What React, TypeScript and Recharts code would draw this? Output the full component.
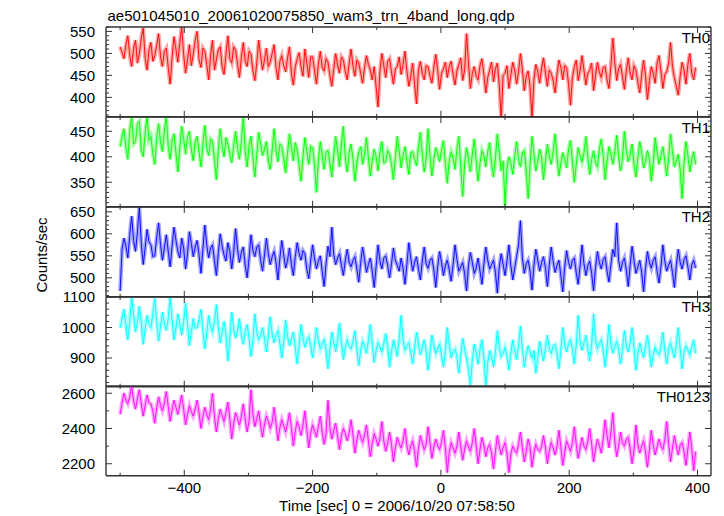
import React from 'react';
import { LineChart, Line, XAxis, YAxis } from 'recharts';

const FONT = '"Liberation Sans", Arial, Helvetica, sans-serif';
const AXIS = '#333333';

// light curve bins: 3 s apart starting at -500 s
const timeStart = -500;
const timeStep = 3;

const th0 = [
  515, 502, 488, 520, 540, 495, 470, 512, 530, 478, 500, 535, 558, 490, 462, 508, 525, 482, 495, 518,
  545, 492, 470, 505, 512, 468, 430, 490, 538, 510, 480, 525, 560, 498, 455, 485, 520, 472, 498, 530,
  550, 486, 468, 512, 505, 475, 440, 495, 530, 462, 485, 508, 515, 470, 452, 498, 540, 488, 478, 515,
  508, 475, 445, 492, 525, 482, 470, 505, 498, 460, 438, 478, 530, 495, 462, 485, 512, 470, 480, 500,
  520, 468, 440, 482, 495, 472, 458, 490, 515, 455, 428, 470, 488, 502, 470, 448, 510, 478, 445, 492,
  492, 462, 430, 475, 505, 468, 460, 488, 480, 450, 425, 465, 500, 472, 455, 492, 485, 458, 440, 478,
  510, 470, 448, 485, 478, 455, 432, 468, 495, 475, 462, 440, 470, 425, 378, 460, 500, 472, 445, 482,
  488, 458, 430, 465, 470, 492, 452, 475, 505, 460, 425, 448, 478, 430, 385, 462, 482, 455, 440, 472,
  470, 448, 432, 468, 498, 462, 418, 455, 465, 480, 445, 470, 482, 452, 428, 460, 475, 490, 438, 462,
  545, 478, 420, 455, 470, 448, 440, 472, 488, 452, 410, 445, 462, 480, 435, 465, 478, 428, 350, 450,
  455, 472, 420, 450, 480, 462, 430, 458, 500, 465, 415, 448, 460, 425, 352, 440, 475, 458, 432, 468,
  490, 455, 425, 462, 455, 438, 410, 452, 485, 468, 440, 472, 468, 430, 382, 445, 470, 485, 438, 460,
  495, 462, 428, 455, 462, 478, 415, 450, 480, 458, 445, 468, 470, 440, 420, 472, 535, 480, 438, 465,
  475, 448, 418, 460, 490, 455, 440, 472, 462, 435, 410, 452, 485, 448, 395, 438, 470, 455, 432, 478,
  495, 460, 420, 452, 458, 478, 525, 470, 445, 425, 405, 448, 480, 462, 430, 475, 500, 455, 440, 468,
];

const th1 = [
  420, 440, 455, 418, 395, 452, 478, 425, 430, 465, 470, 412, 400, 448, 478, 432, 440, 405, 385, 438,
  465, 428, 410, 452, 478, 420, 395, 432, 445, 408, 370, 418, 460, 435, 405, 440, 450, 415, 392, 430,
  440, 410, 380, 425, 462, 418, 402, 435, 430, 395, 355, 412, 455, 420, 400, 438, 425, 405, 388, 422,
  450, 418, 395, 430, 478, 410, 380, 422, 440, 398, 360, 405, 448, 425, 402, 415, 430, 392, 375, 412,
  455, 412, 390, 425, 420, 395, 368, 408, 445, 418, 392, 428, 412, 382, 352, 400, 438, 410, 385, 420,
  418, 385, 330, 392, 430, 402, 375, 410, 412, 388, 360, 405, 440, 412, 380, 425, 460, 398, 370, 408,
  425, 395, 352, 388, 410, 420, 385, 405, 438, 398, 362, 392, 415, 400, 372, 410, 430, 388, 390, 412,
  405, 385, 355, 398, 440, 412, 378, 402, 420, 392, 365, 408, 410, 395, 382, 418, 448, 405, 370, 395,
  455, 402, 362, 395, 418, 405, 390, 412, 432, 385, 348, 392, 410, 398, 375, 415, 440, 380, 322, 388,
  418, 395, 370, 405, 435, 392, 352, 388, 412, 402, 380, 410, 428, 385, 360, 398, 445, 408, 372, 392,
  305, 378, 400, 388, 365, 402, 430, 395, 380, 408, 412, 372, 318, 385, 440, 405, 372, 392, 415, 398,
  355, 392, 425, 402, 385, 410, 445, 398, 362, 388, 408, 395, 378, 415, 432, 390, 350, 385, 418, 402,
  390, 408, 440, 398, 365, 395, 412, 388, 380, 415, 435, 402, 355, 392, 420, 405, 385, 410, 442, 400,
  372, 395, 450, 412, 390, 405, 425, 385, 360, 398, 430, 408, 378, 392, 412, 395, 352, 388, 438, 410,
  385, 402, 420, 392, 362, 398, 445, 410, 380, 392, 405, 375, 318, 388, 430, 402, 370, 395, 410, 385,
];

const th2 = [
  470, 565, 590, 572, 545, 598, 640, 585, 560, 605, 661, 578, 530, 568, 610, 582, 575, 548, 550, 592,
  625, 575, 540, 568, 598, 560, 525, 572, 615, 585, 560, 545, 590, 568, 520, 555, 605, 578, 548, 570,
  585, 552, 510, 565, 620, 575, 545, 568, 575, 540, 505, 555, 600, 572, 552, 538, 580, 560, 520, 558,
  612, 565, 535, 558, 570, 528, 500, 545, 598, 562, 548, 570, 575, 540, 515, 552, 590, 555, 530, 548,
  560, 535, 495, 545, 585, 552, 522, 540, 568, 530, 505, 548, 580, 555, 540, 562, 555, 520, 498, 538,
  575, 545, 520, 538, 550, 515, 480, 532, 572, 548, 615, 552, 530, 545, 555, 528, 505, 540, 565, 535,
  525, 540, 548, 520, 490, 535, 570, 542, 512, 530, 545, 515, 478, 525, 575, 538, 520, 545, 550, 528,
  500, 532, 568, 540, 528, 515, 545, 522, 485, 530, 580, 545, 515, 535, 548, 520, 495, 538, 570, 532,
  522, 540, 545, 518, 478, 525, 560, 535, 505, 528, 540, 518, 492, 530, 575, 542, 515, 525, 535, 510,
  470, 528, 558, 535, 510, 522, 545, 515, 485, 532, 570, 540, 520, 530, 540, 512, 465, 525, 555, 530,
  505, 538, 575, 528, 495, 522, 548, 575, 630, 545, 510, 532, 540, 515, 472, 528, 565, 540, 515, 535,
  548, 522, 480, 530, 570, 538, 512, 528, 540, 505, 468, 525, 562, 535, 520, 540, 545, 512, 485, 528,
  575, 532, 505, 528, 538, 510, 470, 522, 560, 535, 520, 542, 548, 515, 490, 530, 565, 548, 625, 540,
  515, 535, 545, 518, 480, 528, 572, 540, 510, 525, 540, 512, 468, 522, 560, 535, 522, 540, 548, 515,
  488, 525, 575, 538, 515, 530, 540, 512, 478, 528, 565, 535, 520, 542, 550, 525, 495, 530, 540, 522,
];

const th3 = [
  1000, 1030, 1060, 1005, 960, 1025, 1100, 1040, 985, 1020, 1070, 1015, 945, 995, 1040, 1010, 1000, 1045, 1095, 1020,
  955, 1005, 1050, 1012, 990, 1030, 1100, 1025, 960, 1000, 1045, 1010, 975, 1020, 1080, 1015, 940, 985, 1030, 998,
  1000, 1025, 1060, 990, 930, 980, 1040, 1002, 985, 1020, 1075, 1005, 950, 985, 1020, 975, 890, 968, 1050, 995,
  965, 990, 1030, 975, 945, 988, 1010, 965, 905, 958, 1045, 985, 960, 975, 1000, 962, 920, 972, 1035, 980,
  950, 975, 990, 948, 900, 955, 1025, 970, 940, 962, 985, 935, 880, 940, 1010, 965, 935, 958, 970, 942,
  900, 945, 1000, 958, 930, 948, 960, 925, 865, 930, 985, 952, 920, 960, 1015, 950, 895, 935, 960, 940,
  930, 955, 990, 930, 875, 925, 955, 940, 915, 958, 1010, 945, 885, 925, 950, 935, 920, 948, 980, 938,
  870, 920, 960, 935, 905, 962, 1040, 958, 925, 940, 950, 918, 880, 932, 985, 945, 910, 935, 960, 925,
  860, 918, 975, 940, 915, 932, 945, 908, 870, 925, 1000, 942, 900, 922, 930, 905, 850, 910, 965, 930,
  900, 862, 810, 895, 945, 918, 880, 930, 960, 900, 806, 885, 925, 905, 870, 920, 990, 935, 905, 915,
  935, 905, 860, 915, 960, 925, 895, 940, 1005, 930, 870, 912, 940, 918, 900, 925, 850, 902, 955, 920,
  890, 935, 975, 930, 915, 940, 945, 912, 865, 925, 1000, 945, 920, 948, 960, 930, 880, 945, 1040, 952,
  925, 950, 975, 928, 890, 945, 1045, 960, 930, 948, 960, 925, 870, 932, 1010, 950, 915, 938, 955, 930,
  880, 925, 990, 942, 920, 948, 1000, 935, 860, 915, 950, 922, 900, 938, 975, 928, 870, 912, 935, 918,
  910, 935, 985, 925, 880, 930, 950, 922, 900, 945, 1000, 930, 865, 918, 940, 925, 910, 935, 960, 915,
];

const th0123 = [
  2480, 2545, 2600, 2560, 2540, 2580, 2641, 2555, 2510, 2570, 2620, 2540, 2470, 2530, 2590, 2545, 2540, 2500, 2430, 2520,
  2580, 2530, 2500, 2545, 2610, 2525, 2440, 2505, 2560, 2520, 2480, 2535, 2590, 2510, 2420, 2480, 2530, 2495, 2470, 2510,
  2560, 2490, 2400, 2465, 2520, 2480, 2450, 2505, 2600, 2470, 2380, 2450, 2510, 2475, 2440, 2490, 2550, 2455, 2340, 2430,
  2490, 2455, 2420, 2470, 2540, 2450, 2380, 2445, 2620, 2480, 2410, 2455, 2500, 2420, 2350, 2425, 2470, 2440, 2400, 2435,
  2520, 2430, 2330, 2405, 2450, 2415, 2380, 2430, 2490, 2400, 2300, 2385, 2440, 2410, 2360, 2420, 2500, 2395, 2290, 2375,
  2420, 2385, 2350, 2410, 2470, 2380, 2310, 2370, 2560, 2405, 2340, 2390, 2430, 2355, 2280, 2360, 2400, 2370, 2330, 2375,
  2450, 2360, 2260, 2335, 2390, 2350, 2320, 2365, 2420, 2330, 2240, 2315, 2370, 2340, 2300, 2345, 2440, 2330, 2270, 2320,
  2380, 2310, 2210, 2290, 2350, 2315, 2290, 2330, 2400, 2305, 2250, 2300, 2330, 2270, 2180, 2285, 2360, 2320, 2280, 2310,
  2410, 2320, 2230, 2295, 2340, 2300, 2280, 2325, 2390, 2290, 2150, 2265, 2320, 2290, 2260, 2300, 2380, 2295, 2220, 2285,
  2330, 2295, 2270, 2320, 2400, 2300, 2200, 2280, 2350, 2305, 2240, 2290, 2310, 2260, 2170, 2270, 2360, 2300, 2250, 2290,
  2320, 2260, 2150, 2255, 2300, 2275, 2260, 2310, 2380, 2290, 2210, 2270, 2340, 2295, 2180, 2260, 2310, 2280, 2270, 2300,
  2360, 2290, 2200, 2275, 2320, 2290, 2250, 2300, 2390, 2295, 2190, 2265, 2330, 2300, 2270, 2320, 2410, 2310, 2230, 2290,
  2350, 2300, 2280, 2330, 2400, 2310, 2210, 2285, 2340, 2305, 2260, 2340, 2450, 2360, 2290, 2380, 2490, 2330, 2240, 2300,
  2380, 2320, 2300, 2340, 2350, 2285, 2200, 2275, 2420, 2310, 2260, 2300, 2330, 2265, 2180, 2280, 2390, 2305, 2250, 2295,
  2340, 2300, 2280, 2335, 2440, 2310, 2210, 2290, 2360, 2300, 2250, 2305, 2320, 2270, 2190, 2285, 2380, 2290, 2160, 2270,
];

const xTicks = [-500, -400, -300, -200, -100, 0, 100, 200, 300, 400];
const xLabelTicks = [-400, -200, 0, 200, 400];

const th0Labels = [400, 450, 500, 550];
const th1Labels = [350, 400, 450];
const th2Labels = [500, 550, 600, 650];
const th3Labels = [900, 1000, 1100];
const th0123Labels = [2200, 2400, 2600];

const panels = [
  { name: 'TH0', color: '#ff0000', values: th0, domain: [356, 560], labels: th0Labels, minor: 10 },
  { name: 'TH1', color: '#00ff00', values: th1, domain: [302, 478], labels: th1Labels, minor: 10 },
  { name: 'TH2', color: '#0000ff', values: th2, domain: [457, 661], labels: th2Labels, minor: 10 },
  { name: 'TH3', color: '#00ffff', values: th3, domain: [806, 1100], labels: th3Labels, minor: 20 },
  { name: 'TH0123', color: '#ff00ff', values: th0123, domain: [2132, 2641], labels: th0123Labels, minor: 100 },
];

const X_DOMAIN = [-522, 421];
const PLOT_LEFT = 106;
const PLOT_RIGHT = 711;
const TOP = 27.3;
const PANEL_H = 89.74;
const PAD = 12;
const W = 724;
const Y_AXIS_W = 40;
const Y_AXIS_R_W = 10;
const X_AXIS_H = 10;

const minorTicks = (lo: number, hi: number, step: number) => {
  const out: number[] = [];
  for (let v = Math.ceil(lo / step) * step; v <= hi; v += step) out.push(v);
  return out;
};

const yTick = (labels: number[], side: 'left' | 'right') => (props: any) => {
  const { x, y, payload } = props;
  const major = labels.includes(payload.value);
  const len = major ? 6 : 3;
  const dir = side === 'left' ? 1 : -1;
  return (
    <g>
      <line x1={x} y1={y} x2={x + dir * len} y2={y} stroke={AXIS} strokeWidth={1} />
      {side === 'left' && major && (
        <text x={x - 11} y={y} dy="0.36em" textAnchor="end" fontSize={15} fontFamily={FONT} fill="#000">
          {payload.value}
        </text>
      )}
    </g>
  );
};

const xTick = (side: 'top' | 'bottom', showLabels: boolean) => (props: any) => {
  const { x, y, payload } = props;
  const major = xLabelTicks.includes(payload.value);
  const len = major ? 6 : 3;
  const dir = side === 'bottom' ? -1 : 1;
  const v = payload.value as number;
  return (
    <g>
      <line x1={x} y1={y} x2={x} y2={y + dir * len} stroke={AXIS} strokeWidth={1} />
      {showLabels && major && (
        <text x={x} y={y + 17.5} textAnchor="middle" fontSize={15} fontFamily={FONT} fill="#000">
          {v < 0 ? '\u2212' + Math.abs(v) : String(v)}
        </text>
      )}
    </g>
  );
};

function Panel({ p, index, last }: { p: (typeof panels)[number]; index: number; last: boolean }) {
  const data = p.values.map((v, i) => ({ t: timeStart + i * timeStep, v }));
  const bottomPad = last ? 40 : PAD;
  const top = TOP + index * PANEL_H - PAD;
  const yTicks = minorTicks(p.domain[0], p.domain[1], p.minor);
  const axisLine = { stroke: AXIS, strokeWidth: 1.4 };
  return (
    <div style={{ position: 'absolute', left: 0, top }}>
      <LineChart
        width={W}
        height={PANEL_H + PAD + bottomPad}
        data={data}
        margin={{
          top: PAD - X_AXIS_H,
          bottom: bottomPad - X_AXIS_H,
          left: PLOT_LEFT - Y_AXIS_W,
          right: W - PLOT_RIGHT - Y_AXIS_R_W,
        }}
      >
        <XAxis
          xAxisId="b"
          dataKey="t"
          type="number"
          domain={X_DOMAIN}
          allowDataOverflow
          ticks={xTicks}
          interval={0}
          height={X_AXIS_H}
          tickSize={0}
          tickMargin={0}
          axisLine={axisLine}
          tickLine={false}
          tick={xTick('bottom', last)}
        />
        <XAxis
          xAxisId="t"
          orientation="top"
          dataKey="t"
          type="number"
          domain={X_DOMAIN}
          allowDataOverflow
          ticks={xTicks}
          interval={0}
          height={X_AXIS_H}
          tickSize={0}
          tickMargin={0}
          axisLine={axisLine}
          tickLine={false}
          tick={xTick('top', false)}
        />
        <YAxis
          yAxisId="l"
          type="number"
          domain={p.domain}
          allowDataOverflow
          ticks={yTicks}
          interval={0}
          width={Y_AXIS_W}
          tickSize={0}
          tickMargin={0}
          axisLine={axisLine}
          tickLine={false}
          tick={yTick(p.labels, 'left')}
        />
        <YAxis
          yAxisId="r"
          orientation="right"
          type="number"
          domain={p.domain}
          allowDataOverflow
          ticks={yTicks}
          interval={0}
          width={Y_AXIS_R_W}
          tickSize={0}
          tickMargin={0}
          axisLine={axisLine}
          tickLine={false}
          tick={yTick(p.labels, 'right')}
        />
        {/* lighter halo stands in for the error bars */}
        <Line
          xAxisId="b"
          yAxisId="l"
          type="linear"
          dataKey="v"
          stroke={p.color}
          strokeOpacity={0.35}
          strokeWidth={4}
          dot={false}
          isAnimationActive={false}
        />
        <Line
          xAxisId="b"
          yAxisId="l"
          type="linear"
          dataKey="v"
          stroke={p.color}
          strokeWidth={0.9}
          dot={false}
          isAnimationActive={false}
        />
      </LineChart>
    </div>
  );
}

export default function App() {
  return (
    <div style={{ position: 'absolute', left: 0, top: 0, width: W, height: 516, background: '#fff', overflow: 'hidden' }}>
      {panels.map((p, i) => (
        <Panel key={p.name} p={p} index={i} last={i === panels.length - 1} />
      ))}
      <svg width={W} height={516} style={{ position: 'absolute', left: 0, top: 0, pointerEvents: 'none' }}>
        <text x={107.5} y={20.7} fontSize={15} fontFamily={FONT} fill="#000">
          ae501045010_20061020075850_wam3_trn_4band_long.qdp
        </text>
        {panels.map((p, i) => (
          <text
            key={p.name}
            x={710}
            y={TOP + i * PANEL_H + 15.5}
            textAnchor="end"
            fontSize={15}
            fontFamily={FONT}
            fill="#000"
          >
            {p.name}
          </text>
        ))}
        <text
          x={42}
          y={255}
          dy="0.35em"
          textAnchor="middle"
          transform="rotate(-90, 42, 255)"
          fontSize={15}
          fontFamily={FONT}
          fill="#000"
        >
          Counts/sec
        </text>
        <text x={397} y={511} textAnchor="middle" fontSize={15} fontFamily={FONT} fill="#000">
          Time [sec] 0 = 2006/10/20 07:58:50
        </text>
      </svg>
    </div>
  );
}
